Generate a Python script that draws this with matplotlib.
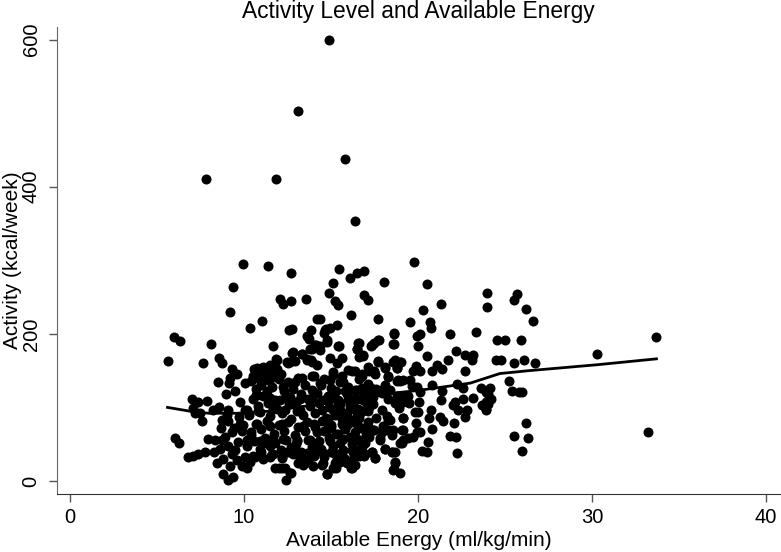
import matplotlib
matplotlib.use('Agg')
import matplotlib.pyplot as plt

plt.rcParams['font.family'] = ['Liberation Sans', 'DejaVu Sans']

# 离散点：上方和右侧，逐个从图上读的
upper_x = [14.9, 13.1, 15.8, 7.8, 11.85, 16.4, 9.94, 11.38, 12.67, 9.39, 12.07, 12.26, 12.7, 13.58, 9.18,
           14.2, 11.02, 10.37, 12.57, 12.78, 5.98, 6.29, 8.09, 11.65, 5.65, 7.65, 8.57, 8.72, 11.84, 12.8,
           12.5, 12.93, 13.34, 13.6, 13.87, 13.87, 13.64, 13.76, 14.7, 14.6, 14.14, 13.9, 14.37, 15.46, 16.09,
           16.48, 16.88, 15.1, 14.89, 15.25, 15.42, 16.9, 17.13, 18.05, 19.75, 20.5, 23.97, 23.97, 21.3, 20.27,
           16.13, 17.67, 19.54, 20.71, 20.77, 14.37, 15.33, 14.94, 14.66, 14.75, 18.64, 18.6, 20.12, 19.96, 19.98,
           21.82, 23.35, 24.52, 15.44, 16.59, 16.48, 16.86, 16.63, 17.74, 17.44, 17.28, 20.5, 22.17, 21.73, 22.7,
           23.18, 23.09, 24.75, 22.7]
upper_y = [600, 503, 438, 411, 410, 354, 295, 292, 283, 264, 247, 240, 244, 248, 230,
           220, 218, 208, 205, 207, 195, 190, 186, 183, 163, 161, 167, 161, 166, 175,
           161, 163, 173, 166, 165, 205, 197, 193, 207, 201, 185, 180, 178, 288, 276,
           282, 285, 269, 256, 245, 239, 253, 246, 271, 297, 268, 255, 236, 240, 233,
           226, 220, 216, 216, 208, 220, 212, 208, 205, 191, 200, 186, 200, 197, 183,
           200, 202, 192, 183, 188, 179, 170, 169, 191, 187, 183, 170, 176, 164, 171,
           171, 164, 164, 150]

right_x = [25.7, 25.5, 26.2, 26.6, 25.0, 25.9, 26.1, 25.5, 26.7, 24.5, 25.2, 25.4, 25.8, 26.0, 25.5,
           26.2, 26.3, 26.0, 33.2, 33.7, 30.3, 24.0, 24.2, 23.9, 23.7, 23.9]
right_y = [254, 246, 234, 217, 192, 192, 164, 160, 160, 164, 136, 122, 121, 121, 61,
           79, 58, 41, 67, 195, 173, 118, 111, 107, 103, 98]

# 右半部分，x 大约 17.5 到 24
mid_x = [17.7, 18.58, 18.97, 18.81, 18.1, 19.89, 19.73, 20.12, 20.8, 21.1, 21.36, 18.28, 18.81, 18.97, 19.54,
         19.64, 19.93, 20.12, 20.79, 22.22, 22.6, 21.38, 23.62, 24.14, 23.89, 21.32, 23.16, 22.6, 22.13, 22.03,
         22.32, 22.8, 22.7, 24.14, 24.04, 23.89, 20.08, 19.5, 19.83, 20.02, 19.16, 18.93, 20.75, 20.6, 19.16,
         19.87, 20.79, 21.27, 21.46, 22.09, 21.84, 22.19, 20.56, 20.21, 20.5, 22.22, 19.93, 20.12, 19.73, 19.45,
         19.16, 18.97, 19.06, 18.39, 18.3, 18.49, 17.91, 17.44, 17.82, 18.1, 18.49, 18.68, 18.68, 18.62, 18.97,
         17.34, 17.53, 16.96, 16.57, 16.29, 16.19, 16.15, 15.23, 15.29, 14.75, 14.56, 17.9, 18.3, 18.7, 17.6,
         17.2, 17.9, 18.2, 17.4, 17.0, 17.6, 18.0, 17.2, 17.5, 18.1]
mid_y = [163, 162, 162, 153, 155, 156, 150, 149, 150, 158, 152, 141, 136, 136, 137,
         129, 128, 121, 130, 132, 126, 122, 127, 127, 121, 110, 113, 112, 107, 103,
         97, 97, 87, 112, 105, 97, 107, 106, 94, 94, 108, 99, 97, 85, 85,
         79, 70, 87, 81, 79, 61, 60, 53, 41, 40, 38, 67, 67, 60, 58,
         56, 51, 69, 83, 69, 63, 67, 69, 56, 43, 40, 40, 26, 16, 11,
         40, 31, 52, 42, 33, 24, 17, 24, 17, 10, 24, 120, 112, 106, 125,
         115, 97, 88, 105, 98, 85, 75, 150, 145, 130]

# 左半部分，x 大约 5.5 到 10.5
left_x = [9.29, 9.58, 9.2, 9.12, 8.5, 7.03, 7.38, 7.86, 7.09, 7.47, 7.57, 7.19, 8.58, 8.24, 9.1,
          8.72, 9.1, 8.68, 9.77, 10.06, 8.97, 9.49, 10.69, 9.73, 9.77, 6.02, 6.25, 6.75, 7.05, 7.38,
          7.76, 8.28, 7.95, 8.34, 8.72, 9.1, 9.29, 9.68, 10.16, 8.43, 8.81, 8.81, 9.1, 9.35, 9.2,
          9.58, 10.06, 10.63, 10.16, 9.87, 10.35, 8.9, 9.4, 9.9, 10.4, 9.0, 9.5, 10.2, 8.6, 9.3]
left_y = [152, 146, 140, 133, 135, 112, 107, 109, 99, 92, 82, 92, 101, 97, 97,
          83, 81, 72, 108, 97, 118, 122, 117, 87, 78, 58, 52, 33, 34, 37,
          39, 39, 57, 56, 56, 47, 66, 53, 47, 24, 30, 10, 1, 6, 20,
          29, 33, 33, 17, 20, 26, 60, 72, 68, 62, 90, 42, 56, 44, 36]

# 中间最密的一块，x 大约 10.5 到 17.5
core_x = [10.6, 11.2, 11.7, 12.1, 10.9, 11.5, 10.4, 11.0, 11.6, 10.7, 11.3, 12.0, 12.5, 13.1, 13.5,
          14.0, 14.6, 15.1, 15.6, 16.2, 16.8, 12.3, 12.8, 13.3, 13.9, 14.4, 15.0, 15.5, 16.0, 16.6,
          17.1, 10.5, 11.1, 11.8, 12.4, 13.0, 13.7, 14.2, 14.8, 15.3, 15.9, 16.4, 16.9, 17.3, 10.8,
          11.4, 11.9, 12.6, 13.2, 13.8, 14.3, 14.9, 15.4, 16.1, 16.5, 17.0, 10.3, 10.9, 11.5, 12.2,
          12.7, 13.4, 14.1, 14.7, 15.2, 15.7, 16.3, 16.7, 17.2, 10.7, 11.3, 12.0, 12.5, 13.1, 13.6,
          14.0, 14.5, 15.0, 15.6, 16.0, 16.6, 17.1, 10.4, 11.0, 11.7, 12.3, 12.9, 13.5, 14.2, 14.8,
          15.3, 15.8, 16.4, 16.9, 10.6, 11.2, 11.8, 12.4, 13.0, 13.7, 14.3, 14.9, 15.5, 16.1, 16.6,
          17.0, 10.9, 11.5, 12.1, 12.7, 13.3, 13.9, 14.4, 15.1, 15.7, 16.2, 16.8, 10.5, 11.1, 11.6,
          12.2, 12.8, 13.4, 14.0, 14.6, 15.2, 15.8, 16.3, 16.9, 11.0, 11.1, 11.69, 12.17, 11.5, 13.03,
          13.22, 13.41, 13.99, 11.98, 12.36, 12.68, 12.4, 12.9, 13.6, 14.2, 15.0, 15.6, 16.2, 16.6, 13.1,
          13.7, 14.5, 15.3, 15.9, 16.4, 17.2, 15.0, 15.4, 15.8, 16.0, 16.3, 14.7, 15.1, 15.5, 15.9,
          16.1, 16.5, 16.7, 14.8, 15.2, 15.6, 16.0, 16.4, 16.8, 14.6, 15.0, 15.4, 15.8, 16.2, 16.6]
core_y = [152, 150, 148, 146, 142, 138, 136, 131, 128, 125, 122, 138, 134, 140, 130,
          142, 138, 148, 143, 150, 146, 122, 125, 118, 124, 130, 126, 134, 128, 138,
          132, 112, 116, 110, 114, 108, 112, 120, 116, 122, 118, 124, 120, 126, 102,
          106, 98, 104, 96, 102, 106, 100, 110, 104, 112, 108, 90, 94, 88, 92,
          84, 90, 92, 86, 94, 90, 98, 94, 100, 78, 82, 76, 80, 74, 80, 78, 82, 76,
          84, 78, 86, 80, 66, 70, 64, 68, 62, 68, 66, 70, 64, 72, 66, 70, 54, 58,
          52, 56, 50, 56, 54, 58, 52, 60, 56, 62, 44, 48, 42, 46, 40, 46, 44, 48,
          42, 50, 46, 34, 30, 36, 32, 36, 30, 34, 32, 36, 30, 38, 34, 40, 51, 56,
          31, 32, 56, 31, 22, 20, 17, 17, 11, 1, 40, 38, 44, 40, 36, 42, 34, 24,
          26, 22, 26, 24, 22, 60, 116, 106, 122, 112, 100, 110, 96, 104, 92, 100,
          88, 94, 84, 90, 78, 86, 80, 72, 68, 74, 64, 70, 60, 56]

# 第二次放大后补的点
extra_x = [12.64, 12.78, 12.45, 13.31, 13.6, 13.89, 14.21, 13.79, 14.08, 14.37, 14.79, 13.7,
           14.94, 15.33, 15.61, 15.13, 15.99, 16.38, 16.76, 17.15, 17.47, 16.57, 16.48, 16.86, 15.42,
           17.72, 17.34, 18.62, 18.58, 17.72, 18.1, 18.68, 19.0, 18.77, 18.3, 18.87, 19.16,
           10.73, 11.11, 11.49, 11.88, 11.88, 10.54, 10.06, 10.92, 11.4, 11.2, 10.73,
           12.26, 12.93, 13.31, 13.89, 14.37, 14.94, 15.71, 16.48, 16.76, 17.05, 15.9, 17.91, 18.39, 18.77, 19.16, 19.44,
           11.49, 12.07, 12.64, 13.22, 13.89, 14.46, 15.04, 16.28, 16.86, 17.43,
           10.15, 10.82, 11.69, 12.36, 13.03, 14.46, 15.52, 16.57, 17.15,
           9.96, 10.73, 11.49, 12.16, 13.41, 14.08, 14.85, 15.71, 16.48, 17.15,
           10.15, 10.92, 12.26, 13.03, 13.79, 14.94, 15.71, 16.67,
           10.92, 11.69, 12.55, 13.6, 14.56, 15.33, 16.28, 16.95,
           11.78, 12.16, 12.64, 15.13, 15.52, 16.19,
           17.34, 17.53, 18.1, 18.49, 18.68, 18.58, 17.43, 17.82, 18.3, 18.58, 19.16, 19.16, 19.06, 14.75]
extra_y = [162, 174, 162, 173, 165, 162, 158, 180, 185, 183, 189, 196,
           167, 160, 167, 144, 151, 149, 142, 155, 149, 187, 179, 171, 183,
           192, 185, 201, 186, 162, 154, 165, 162, 153, 142, 137, 137,
           153, 155, 158, 152, 165, 142, 133, 137, 137, 146, 117,
           128, 135, 140, 142, 133, 137, 135, 124, 126, 124, 119, 124, 124, 115, 115, 115,
           113, 110, 114, 111, 113, 110, 114, 112, 110, 114,
           97, 95, 98, 96, 95, 97, 96, 98, 95,
           76, 78, 75, 77, 75, 74, 77, 76, 78, 75,
           56, 54, 57, 55, 56, 54, 57, 55,
           38, 36, 39, 37, 38, 36, 39, 37,
           17, 17, 11, 17, 26, 17,
           40, 31, 44, 40, 24, 15, 69, 58, 83, 69, 85, 69, 51, 10]

# lowess 平滑线
lowess_x = [5.6, 7.1, 8.0, 9.6, 11.5, 13.0, 16.0, 18.8, 20.0, 23.0, 24.7, 26.4, 30.3, 33.7]
lowess_y = [100, 94, 92, 92, 95, 100, 110, 120, 123, 133, 146, 150, 158, 166]

all_x = upper_x + right_x + mid_x + left_x + core_x + extra_x
all_y = upper_y + right_y + mid_y + left_y + core_y + extra_y

fig = plt.figure(figsize=(7.81, 5.52), dpi=100)
ax = fig.add_axes([57 / 781, 1 - 494 / 552, 723 / 781, 467 / 552])

ax.scatter(all_x, all_y, s=52, color='black', linewidths=0, zorder=2)
ax.plot(lowess_x, lowess_y, color='black', linewidth=2.0, zorder=3)

ax.set_xlim(-0.75, 40.8)
ax.set_ylim(-17.7, 617)
ax.set_xticks([0, 10, 20, 30, 40])
ax.set_yticks([0, 200, 400, 600])
ax.tick_params(axis='both', direction='out', length=5.8, width=1, color='#555555', labelsize=14.5)
ax.tick_params(axis='x', pad=4.5)
ax.tick_params(axis='y', pad=6)
plt.setp(ax.get_yticklabels(), rotation=90, va='center')

ax.spines['top'].set_visible(False)
ax.spines['right'].set_visible(False)
ax.spines['left'].set_color('#666666')
ax.spines['bottom'].set_color('#333333')

ax.set_xlabel('Available Energy (ml/kg/min)', fontsize=15, labelpad=3)
ax.set_ylabel('Activity (kcal/week)', fontsize=15, labelpad=0)
ax.set_title('Activity Level and Available Energy', fontsize=16.4, pad=6.5)

plt.savefig('out.png', dpi=100)
